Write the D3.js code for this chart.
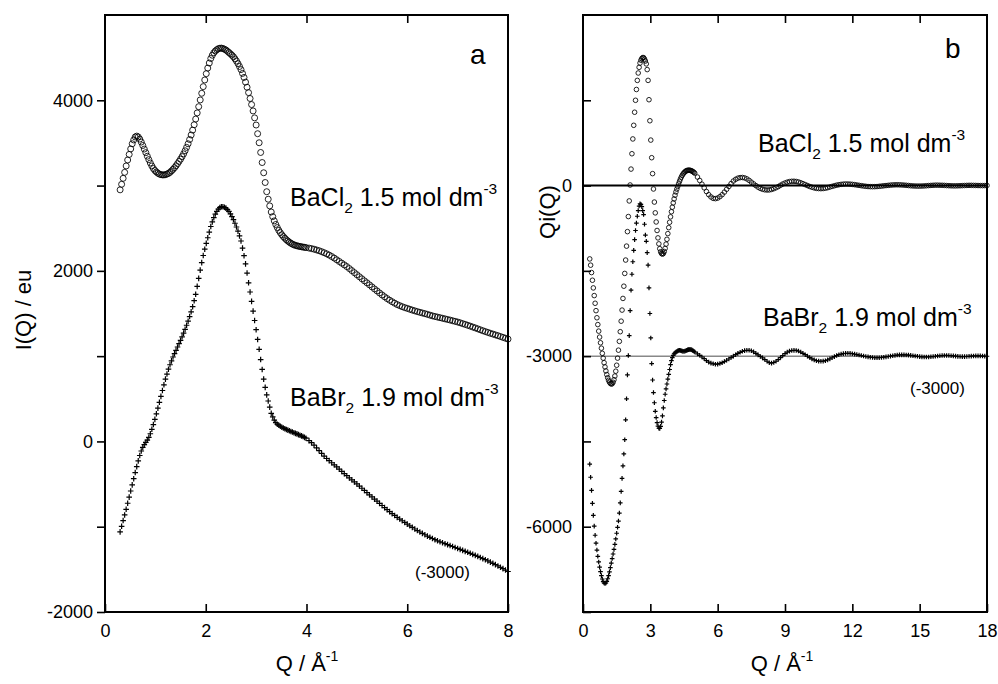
<!DOCTYPE html>
<html>
<head>
<meta charset="utf-8">
<script src="https://cdn.jsdelivr.net/npm/d3@7"></script>
<style>
  body { margin: 0; background: #fff; }
  text { font-family: "Liberation Sans", Arial, Helvetica, sans-serif; fill: #000; }
</style>
</head>
<body>
<div id="chart"></div>
<script>
// Q grids: each series is stored as values on a uniform Q grid (start, step)
var leftHeadStart = 0.30, leftHeadStep = 0.03;   // 0.30 .. 3.99
var leftTailStart = 4.05, leftTailStep = 0.05;   // 4.05 .. 8.00
var rightHeadStart = 0.30, rightHeadStep = 0.04; // 0.30 .. 4.98
var rightTailStart = 5.1, rightTailStep = 0.1;   // 5.1 .. 18.0

// panel a: I(Q) / eu, BaCl2 1.5 mol dm-3 (circles)
var clLeftHead = [
  2950,3015,3085,3155,3230,3300,3365,3430,3490,3535,
  3570,3580,3570,3545,3510,3470,3428,3386,3344,3304,
  3265,3230,3200,3177,3160,3145,3135,3128,3125,3125,
  3128,3135,3143,3155,3172,3190,3210,3232,3257,3283,
  3310,3340,3372,3408,3448,3490,3540,3593,3650,3713,
  3780,3852,3925,4004,4082,4160,4238,4312,4378,4437,
  4490,4528,4557,4578,4593,4605,4610,4612,4607,4599,
  4590,4575,4560,4545,4528,4510,4486,4460,4430,4396,
  4360,4315,4268,4213,4153,4090,4021,3950,3875,3794,
  3710,3608,3502,3388,3270,3150,3036,2928,2840,2762,
  2690,2636,2586,2544,2508,2475,2448,2423,2402,2383,
  2365,2350,2336,2324,2314,2305,2299,2294,2289,2286,
  2282,2279,2276,2273
];
var clLeftTail = [
  2267,2261,2254,2245,2236,2225,2213,2200,2185,2168,
  2150,2130,2110,2090,2070,2050,2027,2003,1979,1955,
  1931,1907,1883,1860,1836,1812,1788,1765,1741,1718,
  1696,1675,1656,1638,1621,1605,1592,1580,1569,1560,
  1550,1540,1531,1522,1514,1506,1498,1490,1481,1472,
  1465,1458,1451,1444,1437,1430,1423,1415,1408,1400,
  1391,1381,1372,1362,1352,1341,1331,1320,1309,1298,
  1288,1278,1268,1259,1249,1240,1230,1220,1210,1200
];
// panel a: BaBr2 1.9 mol dm-3 (crosses, shifted by -3000)
var brLeftHead = [
  -1060,-995,-928,-862,-796,-725,-653,-581,-509,-437,
  -365,-296,-228,-165,-112,-70,-38,-11,16,48,
  90,142,198,258,324,390,459,528,597,664,
  730,790,847,899,945,990,1029,1068,1107,1146,
  1185,1227,1270,1314,1362,1410,1464,1520,1580,1650,
  1725,1818,1912,2008,2096,2180,2254,2322,2388,2454,
  2520,2574,2624,2666,2698,2725,2742,2752,2752,2745,
  2735,2717,2697,2669,2636,2600,2558,2514,2466,2410,
  2350,2266,2178,2082,1974,1860,1752,1642,1528,1418,
  1310,1196,1080,960,844,730,634,546,474,402,
  330,288,250,220,202,190,178,167,158,149,
  140,132,125,117,110,102,95,88,80,73,
  65,57,48,38
];
var brLeftTail = [
  10,-15,-44,-75,-107,-140,-172,-200,-225,-250,
  -274,-299,-325,-352,-378,-402,-427,-450,-474,-498,
  -523,-549,-575,-601,-626,-651,-676,-700,-726,-751,
  -776,-800,-823,-846,-868,-890,-910,-930,-950,-970,
  -989,-1008,-1027,-1045,-1062,-1078,-1094,-1110,-1124,-1138,
  -1152,-1165,-1177,-1188,-1199,-1210,-1221,-1232,-1244,-1255,
  -1266,-1277,-1289,-1300,-1312,-1324,-1336,-1348,-1361,-1374,
  -1387,-1400,-1415,-1430,-1445,-1460,-1476,-1492,-1508,-1525
];

// panel b: Qi(Q), BaCl2 (circles)
var clRightHead = [
  -1290,-1400,-1530,-1665,-1800,-1935,-2070,-2200,-2325,-2445,
  -2560,-2665,-2765,-2860,-2950,-3035,-3115,-3190,-3260,-3325,
  -3380,-3425,-3458,-3480,-3490,-3485,-3460,-3415,-3350,-3265,
  -3160,-3035,-2895,-2740,-2570,-2385,-2190,-1985,-1770,-1545,
  -1310,-1065,-810,-545,-270,10,290,560,820,1060,
  1290,1500,1690,1850,1980,2080,2155,2205,2235,2250,
  2250,2225,2190,2140,2040,1850,1510,1140,800,490,
  210,-60,-290,-480,-640,-790,-920,-1025,-1110,-1165,
  -1195,-1205,-1195,-1160,-1105,-1030,-945,-845,-740,-645,
  -550,-460,-380,-305,-235,-170,-112,-62,-15,30,
  75,115,150,180,205,225,242,255,263,268,
  270,270,267,262,255,245,232,218
];
var clRightTail = [
  150,90,25,-40,-105,-160,-200,-225,-230,-220,
  -195,-160,-115,-65,-15,35,80,110,130,140,
  142,135,118,92,60,30,0,-28,-50,-65,
  -74,-78,-76,-68,-55,-38,-18,5,27,45,
  60,70,75,76,72,63,50,34,17,0,
  -16,-30,-41,-49,-53,-54,-52,-46,-37,-26,
  -14,-3,7,15,21,25,27,27,25,21,
  16,10,4,-2,-8,-13,-17,-19,-20,-19,
  -17,-13,-9,-4,0,4,8,11,13,14,
  13,11,8,5,1,-3,-6,-8,-9,-9,
  -8,-6,-3,0,3,5,7,7,6,5,
  3,0,-2,-4,-5,-5,-4,-3,-1,1,
  3,4,4,3,2,1,0,-1,0,2
];
// panel b: BaBr2 (crosses, shifted by -3000)
var brRightHead = [
  -4900,-5130,-5360,-5590,-5800,-5990,-6150,-6290,-6410,-6520,
  -6620,-6710,-6790,-6860,-6920,-6965,-6990,-7000,-6990,-6960,
  -6915,-6860,-6795,-6720,-6640,-6560,-6480,-6400,-6310,-6215,
  -6115,-6010,-5900,-5760,-5580,-5380,-5150,-4930,-4720,-4470,
  -4120,-3750,-3330,-2990,-2640,-2200,-1840,-1560,-1340,-1140,
  -950,-790,-660,-540,-440,-360,-320,-330,-370,-440,
  -510,-680,-870,-980,-1180,-1400,-1800,-2250,-2680,-3130,
  -3420,-3640,-3820,-3970,-4080,-4170,-4230,-4268,-4270,-4235,
  -4160,-4050,-3910,-3780,-3670,-3575,-3490,-3405,-3320,-3235,
  -3150,-3080,-3025,-2985,-2958,-2942,-2930,-2918,-2908,-2900,
  -2896,-2900,-2906,-2911,-2914,-2914,-2912,-2906,-2898,-2890,
  -2885,-2882,-2882,-2886,-2893,-2903,-2915,-2928
];
var brRightTail = [
  -2960,-2985,-3015,-3045,-3080,-3105,-3122,-3135,-3142,-3140,
  -3130,-3115,-3095,-3072,-3050,-3025,-3000,-2975,-2952,-2932,
  -2915,-2903,-2897,-2896,-2905,-2925,-2950,-2978,-3005,-3030,
  -3060,-3090,-3115,-3122,-3112,-3090,-3060,-3025,-2990,-2955,
  -2930,-2912,-2902,-2898,-2900,-2910,-2928,-2950,-2975,-3000,
  -3025,-3048,-3066,-3080,-3088,-3090,-3088,-3080,-3066,-3048,
  -3028,-3008,-2990,-2975,-2963,-2955,-2951,-2950,-2952,-2957,
  -2964,-2972,-2981,-2990,-2998,-3006,-3013,-3019,-3024,-3027,
  -3028,-3027,-3024,-3019,-3013,-3006,-2999,-2992,-2986,-2981,
  -2978,-2977,-2977,-2979,-2982,-2987,-2992,-2998,-3003,-3008,
  -3012,-3014,-3015,-3014,-3011,-3007,-3002,-2997,-2993,-2990,
  -2988,-2988,-2989,-2992,-2996,-3000,-3004,-3007,-3008,-3008,
  -3006,-3003,-3000,-2997,-2995,-2995,-2996,-2998,-3000,-3002
];

// tick values and labels
var leftXTicks = [0, 2, 4, 6, 8];
var leftYTicks = [-2000, -1000, 0, 1000, 2000, 3000, 4000];
var rightXTicks = [0, 3, 6, 9, 12, 15, 18];
var rightYTicks = [-7500, -6000, -4500, -3000, -1500, 0, 1500];

var FONT = "'Liberation Sans', Arial, Helvetica, sans-serif";

var onGrid = function(start, step, values) {
    return values.map(function(v, i) {
        return { q: +(start + i * step).toFixed(3), v: v };
    });
};

var svg = d3.select("#chart")
    .append("svg")
        .attr("width", 998)
        .attr("height", 684);

// shared helpers
var plusPath = function(s) {
    return "M" + (-s) + ",0H" + s + "M0," + (-s) + "V" + s;
};

var drawCircles = function(g, pts, x, y, r) {
    g.append("g").selectAll("circle")
        .data(pts)
        .enter()
        .append("circle")
        .attr("cx", function(d) { return x(d.q); })
        .attr("cy", function(d) { return y(d.v); })
        .attr("r", r)
        .style("fill", "none")
        .style("stroke", "#000")
        .style("stroke-opacity", 0.85)
        .style("stroke-width", 1);
};

var drawPlus = function(g, pts, x, y, s) {
    g.append("g").selectAll("path")
        .data(pts)
        .enter()
        .append("path")
        .attr("transform", function(d) {
            return "translate(" + x(d.q) + "," + y(d.v) + ")";
        })
        .attr("d", plusPath(s))
        .style("fill", "none")
        .style("stroke", "#000")
        .style("stroke-width", 1.2);
};

var styleAxis = function(g) {
    g.select(".domain").remove();
    g.selectAll(".tick line").style("stroke", "#000").style("stroke-width", 1.6);
    g.selectAll(".tick text")
        .attr("font-size", 18)
        .attr("font-family", FONT)
        .attr("fill", "#000");
};

// label like "BaCl2 1.5 mol dm-3" with sub and superscript
var chemLabel = function(g, x, y, base, sub, rest, sup, size) {
    var t = g.append("text")
        .attr("x", x)
        .attr("y", y)
        .attr("font-size", size)
        .attr("font-family", FONT);
    t.append("tspan").text(base);
    t.append("tspan").attr("font-size", size * 0.62).attr("dy", size * 0.28).text(sub);
    t.append("tspan").attr("dy", -size * 0.28).text(rest);
    t.append("tspan").attr("font-size", size * 0.62).attr("dy", -size * 0.5).text(sup);
    return t;
};

var qTitle = function(g, cx, y) {
    var t = g.append("text")
        .attr("x", cx)
        .attr("y", y)
        .attr("font-size", 22)
        .attr("font-family", FONT)
        .style("text-anchor", "middle");
    t.append("tspan").text("Q / \u00C5");
    t.append("tspan").attr("font-size", 14).attr("dy", -10).text("-1");
};

// ---------------- panel a ----------------
var xL = d3.scaleLinear().domain([0, 8]).range([105, 508]);
var yL = d3.scaleLinear().domain([-2000, 5000]).range([612, 15]);
var gA = svg.append("g");

gA.append("g")
    .attr("transform", "translate(105,0)")
    .call(d3.axisLeft(yL).tickValues(leftYTicks).tickSizeInner(8).tickSizeOuter(0).tickPadding(4)
        .tickFormat(function(d) { return d % 2000 === 0 ? String(d) : ""; }))
    .call(styleAxis);
gA.append("g")
    .attr("transform", "translate(0,612)")
    .call(d3.axisBottom(xL).tickValues(leftXTicks).tickSizeInner(-8).tickSizeOuter(0).tickPadding(12)
        .tickFormat(function(d) { return String(d); }))
    .call(styleAxis);
gA.append("g")
    .attr("transform", "translate(0,15)")
    .call(d3.axisTop(xL).tickValues([2, 4, 6]).tickSizeInner(-8).tickSizeOuter(0).tickFormat(""))
    .call(styleAxis);

drawCircles(gA, onGrid(leftHeadStart, leftHeadStep, clLeftHead)
    .concat(onGrid(leftTailStart, leftTailStep, clLeftTail)), xL, yL, 3);
drawPlus(gA, onGrid(leftHeadStart, leftHeadStep, brLeftHead)
    .concat(onGrid(leftTailStart, leftTailStep, brLeftTail)), xL, yL, 2.8);

gA.append("rect")
    .attr("x", 105).attr("y", 15).attr("width", 403).attr("height", 597)
    .style("fill", "none").style("stroke", "#000").style("stroke-width", 2);

gA.append("text").attr("x", 470).attr("y", 64).attr("font-size", 28).text("a");
chemLabel(gA, 290, 206, "BaCl", "2", " 1.5 mol dm", "-3", 25);
chemLabel(gA, 290, 406, "BaBr", "2", " 1.9 mol dm", "-3", 25);
gA.append("text").attr("x", 415).attr("y", 578).attr("font-size", 17).text("(-3000)");

gA.append("text")
    .attr("transform", "translate(31,310) rotate(-90)")
    .attr("font-size", 22)
    .style("text-anchor", "middle")
    .text("I(Q) / eu");
qTitle(gA, 307, 671);

// ---------------- panel b ----------------
var xR = d3.scaleLinear().domain([0, 18]).range([583, 987]);
var yR = d3.scaleLinear().domain([-7500, 3000]).range([612, 15]);
var gB = svg.append("g");

gB.append("line")
    .attr("x1", 583).attr("x2", 987).attr("y1", yR(-3000)).attr("y2", yR(-3000))
    .style("stroke", "#888").style("stroke-width", 1.5);
gB.append("line")
    .attr("x1", 583).attr("x2", 987).attr("y1", yR(0)).attr("y2", yR(0))
    .style("stroke", "#000").style("stroke-width", 2);

gB.append("g")
    .attr("transform", "translate(583,0)")
    .call(d3.axisLeft(yR).tickValues(rightYTicks).tickSizeInner(-8).tickSizeOuter(0).tickPadding(11)
        .tickFormat(function(d) { return d % 3000 === 0 && d > -7500 ? String(d) : ""; }))
    .call(styleAxis);
gB.append("g")
    .attr("transform", "translate(0,612)")
    .call(d3.axisBottom(xR).tickValues(rightXTicks).tickSizeInner(-8).tickSizeOuter(0).tickPadding(12)
        .tickFormat(function(d) { return String(d); }))
    .call(styleAxis);
gB.append("g")
    .attr("transform", "translate(0,15)")
    .call(d3.axisTop(xR).tickValues([3, 6, 9, 12, 15]).tickSizeInner(-8).tickSizeOuter(0).tickFormat(""))
    .call(styleAxis);

drawCircles(gB, onGrid(rightHeadStart, rightHeadStep, clRightHead)
    .concat(onGrid(rightTailStart, rightTailStep, clRightTail)), xR, yR, 2.3);
drawPlus(gB, onGrid(rightHeadStart, rightHeadStep, brRightHead)
    .concat(onGrid(rightTailStart, rightTailStep, brRightTail)), xR, yR, 2.3);

gB.append("rect")
    .attr("x", 583).attr("y", 15).attr("width", 404).attr("height", 597)
    .style("fill", "none").style("stroke", "#000").style("stroke-width", 2);

gB.append("text").attr("x", 945).attr("y", 58).attr("font-size", 28).text("b");
chemLabel(gB, 758, 152, "BaCl", "2", " 1.5 mol dm", "-3", 25);
chemLabel(gB, 763, 326, "BaBr", "2", " 1.9 mol dm", "-3", 25);
gB.append("text").attr("x", 910).attr("y", 394).attr("font-size", 17).text("(-3000)");

gB.append("text")
    .attr("transform", "translate(555,212) rotate(-90)")
    .attr("font-size", 22)
    .style("text-anchor", "middle")
    .text("Qi(Q)");
qTitle(gB, 782, 671);
</script>
</body>
</html>
